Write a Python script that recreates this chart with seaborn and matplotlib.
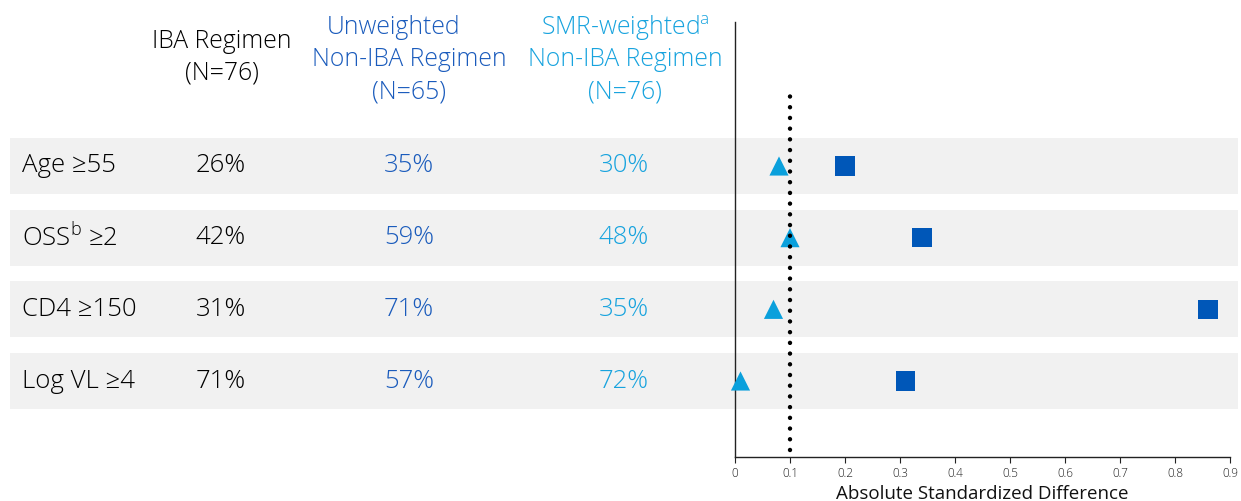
import matplotlib
matplotlib.use("Agg")
import matplotlib.pyplot as plt
import seaborn as sns
import pandas as pd
from matplotlib.patches import Rectangle

sns.set_theme(style="white")
plt.rcParams['font.family'] = ['Open Sans', 'DejaVu Sans']
plt.rcParams['font.weight'] = 'light'
plt.rcParams['mathtext.fontset'] = 'custom'
plt.rcParams['mathtext.rm'] = 'Open Sans:light'

# ---- data ----
variables = ["Age \u226555", "OSS$^{\\mathrm{b}}$ \u22652", "CD4 \u2265150", "Log VL \u22654"]
iba_pct = ["26%", "42%", "31%", "71%"]
unweighted_pct = ["35%", "59%", "71%", "57%"]
smr_pct = ["30%", "48%", "35%", "72%"]
unweighted_asd = [0.20, 0.34, 0.86, 0.31]
smr_asd = [0.08, 0.10, 0.07, 0.01]
threshold = 0.1
xticks = [0, 0.1, 0.2, 0.3, 0.4, 0.5, 0.6, 0.7, 0.8, 0.9]

DARK = "#0057B8"
LIGHT = "#0AA0DC"
DARK_TXT = "#1A5BBC"
LIGHT_TXT = "#17A3DE"
BLACK_TXT = "#000000"

W, H = 1241, 501
fig = plt.figure(figsize=(W / 100, H / 100), dpi=100)

# axes: x 0..0.9 at px 735..1230, y px 22..457
x0, x1, ytop, ybot = 735, 1230, 22, 457
ax = fig.add_axes([x0 / W, 1 - ybot / H, (x1 - x0) / W, (ybot - ytop) / H])
row_px = [166, 238, 309, 381]
ppu = (row_px[-1] - row_px[0]) / 3.0
ax.set_ylim((ybot - row_px[0]) / ppu, (ytop - row_px[0]) / ppu)
ax.set_xlim(0, 0.9)
pxu = (x1 - x0) / 0.9

def px2x(p):
    return (p - x0) / pxu

# gray bands
band_h = 56 / ppu
for i in range(len(variables)):
    ax.add_patch(Rectangle((px2x(10), i - band_h / 2), px2x(1238) - px2x(10), band_h,
                           facecolor="#F1F1F1", edgecolor="none", clip_on=False, zorder=0))

df = pd.DataFrame({
    "row": list(range(4)) * 2,
    "asd": unweighted_asd + smr_asd,
    "group": ["Unweighted"] * 4 + ["SMR"] * 4,
})
sns.scatterplot(data=df, x="asd", y="row", hue="group", style="group",
                markers={"Unweighted": "s", "SMR": "^"},
                palette={"Unweighted": DARK, "SMR": LIGHT},
                s=190, linewidth=0, legend=False, ax=ax, zorder=3, clip_on=False)

ax.plot([threshold, threshold], [(450 - row_px[0]) / ppu, (93 - row_px[0]) / ppu],
        color="black", lw=3.2, ls=(0, (0.01, 2.4)), dash_capstyle="round", zorder=4)

ax.set_xticks(xticks)
ax.set_xticklabels(["0" if t == 0 else f"{t:g}" for t in xticks], fontsize=8.5, color="#222222")
ax.set_yticks([])
ax.set_ylabel("")
ax.set_xlabel("Absolute Standardized Difference", fontsize=13.5, color="#111111", labelpad=4)
for s in ["top", "right"]:
    ax.spines[s].set_visible(False)
for s in ["left", "bottom"]:
    ax.spines[s].set_color("#222222")
    ax.spines[s].set_linewidth(1.0)
ax.tick_params(axis="x", direction="out", length=4, width=0.8, color="#222222", pad=3, bottom=True)

# table text
fs = 17.8
fr = 18.5
for i in range(4):
    y = i
    ax.text(px2x(22), y, variables[i], ha="left", va="center", fontsize=fr, color=BLACK_TXT, clip_on=False)
    ax.text(px2x(221), y, iba_pct[i], ha="center", va="center", fontsize=fr, color=BLACK_TXT, clip_on=False)
    ax.text(px2x(409), y, unweighted_pct[i], ha="center", va="center", fontsize=fr, color=DARK_TXT, clip_on=False)
    ax.text(px2x(624), y, smr_pct[i], ha="center", va="center", fontsize=fr, color=LIGHT_TXT, clip_on=False)

def hdr(px, py, s, c):
    fig.text(px / W, 1 - py / H, s, ha="center", va="center", fontsize=fs, color=c)

hdr(222, 42, "IBA Regimen", BLACK_TXT)
hdr(222, 73, "(N=76)", BLACK_TXT)
hdr(394, 28, "Unweighted", DARK_TXT)
hdr(409, 60, "Non-IBA Regimen", DARK_TXT)
hdr(409, 92, "(N=65)", DARK_TXT)
hdr(625, 28, "SMR-weighted$^{\\mathrm{a}}$", LIGHT_TXT)
hdr(625, 60, "Non-IBA Regimen", LIGHT_TXT)
hdr(625, 92, "(N=76)", LIGHT_TXT)

fig.savefig("out.png", dpi=100)
